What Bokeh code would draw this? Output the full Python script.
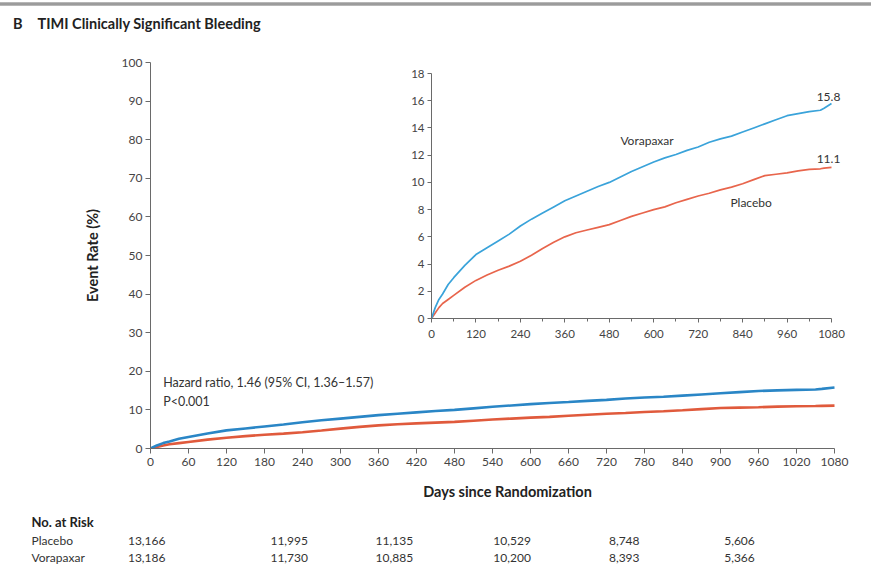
from bokeh.plotting import figure
from bokeh.models import Range1d, Label, FixedTicker, LinearAxis, Div, ColumnDataSource
from bokeh.layouts import column
from bokeh.core.properties import value
from bokeh.embed import file_html
from bokeh.resources import INLINE

# ---------------- data ----------------
days = [0, 10, 20, 30, 45, 60, 90, 120, 150, 180, 210, 240, 270, 300, 330, 360, 390, 420,
        450, 480, 510, 540, 570, 600, 630, 660, 690, 720, 750, 780, 810, 840, 870, 900,
        930, 960, 990, 1020, 1050, 1060, 1080]
vorapaxar = [0, 0.8, 1.4, 1.8, 2.5, 3.0, 3.9, 4.7, 5.2, 5.7, 6.2, 6.8, 7.3, 7.75, 8.2, 8.65,
             9.0, 9.35, 9.7, 10.0, 10.4, 10.8, 11.15, 11.5, 11.8, 12.05, 12.35, 12.6, 12.95,
             13.2, 13.4, 13.7, 14.0, 14.3, 14.6, 14.9, 15.05, 15.2, 15.3, 15.45, 15.8]
placebo = [0, 0.4, 0.8, 1.1, 1.4, 1.7, 2.3, 2.8, 3.2, 3.55, 3.85, 4.2, 4.65, 5.15, 5.6, 6.0,
           6.3, 6.5, 6.7, 6.9, 7.2, 7.5, 7.75, 8.0, 8.2, 8.5, 8.75, 9.0, 9.2, 9.45, 9.65,
           9.9, 10.2, 10.5, 10.6, 10.7, 10.85, 10.95, 11.0, 11.05, 11.1]

main_x_ticks = list(range(0, 1081, 60))
main_y_ticks = list(range(0, 101, 10))
inset_x_ticks = list(range(0, 1081, 120))
inset_x_minor = list(range(60, 1081, 120))
inset_y_ticks = list(range(0, 19, 2))

risk_groups = ["Placebo", "Vorapaxar"]
risk_days = [-6, 219, 385, 571, 748, 930]          # column positions on the days axis
risk_placebo = ["13,166", "11,995", "11,135", "10,529", "8,748", "5,606"]
risk_vorapaxar = ["13,186", "11,730", "10,885", "10,200", "8,393", "5,366"]

final_vor = "15.8"
final_pla = "11.1"

# ---------------- layout constants (pixels) ----------------
W = 871
TITLE_H = 48
MAIN_H = 457
RISK_H = 80
F_LEFT, F_RIGHT, F_TOP, F_BOT = 150, 834, 62, 448       # main axis extent, page pixels
FRAME_RIGHT = 864                                       # drawing area extends a bit past 1080
I_LEFT, I_RIGHT, I_TOP, I_BOT = 431, 831, 73, 318       # inset frame, page pixels

FONT = "Lato"
TXT = "#333333"
AX = "#6a6a6a"
BLUE_MAIN = "#2a86c6"
RED_MAIN = "#e05a3c"
BLUE_INSET = "#3aa3da"
RED_INSET = "#e8654c"

# ---------------- title ----------------
title = Div(text=(
    '<div style="position:relative;width:%dpx;height:%dpx;">'
    '<div style="position:absolute;left:0;top:2px;width:%dpx;height:4px;'
    'background:linear-gradient(#c4c4c4,#8e8e8e,#c4c4c4);"></div>'
    '<div style="position:absolute;left:13px;top:14px;font-family:Lato;font-weight:bold;'
    'font-size:14.5px;color:#222;white-space:nowrap;">B<span style="display:inline-block;width:15px;"></span>'
    'TIMI Clinically Significant Bleeding</div>'
    '</div>') % (W, TITLE_H, W), width=W, height=TITLE_H, margin=0)

# ---------------- main figure ----------------
k = (F_RIGHT - F_LEFT) / 1080
p = figure(width=W, height=MAIN_H, output_backend="svg", toolbar_location=None,
           x_range=Range1d(0, 1080 + (FRAME_RIGHT - F_RIGHT) / k), y_range=Range1d(0, 100),
           min_border_left=F_LEFT, min_border_right=W - FRAME_RIGHT,
           min_border_top=F_TOP - TITLE_H, min_border_bottom=TITLE_H + MAIN_H - F_BOT,
           margin=0)
p.outline_line_color = None
p.xgrid.visible = False
p.ygrid.visible = False


def style_axis(ax, size):
    ax.axis_line_color = AX
    ax.major_tick_line_color = AX
    ax.minor_tick_line_color = AX
    ax.major_tick_out = 5
    ax.major_tick_in = 0
    ax.minor_tick_out = 3
    ax.minor_tick_in = 0
    ax.major_label_text_font = FONT
    ax.major_label_text_font_size = size
    ax.major_label_text_color = "#444444"
    ax.axis_label_text_font = FONT
    ax.axis_label_text_font_size = "14.5px"
    ax.axis_label_text_font_style = "bold"
    ax.axis_label_text_color = "#222222"


style_axis(p.xaxis[0], "12px")
style_axis(p.yaxis[0], "12px")
p.xaxis.ticker = FixedTicker(ticks=main_x_ticks, minor_ticks=[])
p.yaxis.ticker = FixedTicker(ticks=main_y_ticks, minor_ticks=[])
p.xaxis.bounds = (0, 1080)
p.xaxis.axis_label = "Days since Randomization"
p.yaxis.axis_label = "Event Rate (%)"
p.xaxis.axis_label_standoff = 14
p.yaxis.axis_label_standoff = 18
p.xaxis.major_label_standoff = 4
p.yaxis.major_label_standoff = 3

p.line(days, placebo, line_color=RED_MAIN, line_width=2.6)
p.line(days, vorapaxar, line_color=BLUE_MAIN, line_width=2.6)

p.add_layout(Label(x=20, y=17.1, text="Hazard ratio, 1.46 (95% CI, 1.36\u20131.57)",
                   text_font=FONT, text_font_size="12.5px", text_color=TXT,
                   text_baseline="middle"))
p.add_layout(Label(x=20, y=12.2, text="P<0.001",
                   text_font=FONT, text_font_size="12.5px", text_color=TXT,
                   text_baseline="middle"))

# ---------------- inset (extra ranges inside the main frame) ----------------
kx = 1080 / (I_RIGHT - I_LEFT)
ky = 18 / (I_BOT - I_TOP)
p.extra_x_ranges = {"ix": Range1d(-(I_LEFT - F_LEFT) * kx, 1080 + (FRAME_RIGHT - I_RIGHT) * kx)}
p.extra_y_ranges = {"iy": Range1d(-(F_BOT - I_BOT) * ky, 18 + (I_TOP - F_TOP) * ky)}

ixa = LinearAxis(x_range_name="ix", y_range_name="iy", fixed_location=0, bounds=(0, 1080),
                 ticker=FixedTicker(ticks=inset_x_ticks, minor_ticks=inset_x_minor))
style_axis(ixa, "11.5px")
ixa.major_tick_out = 4
ixa.major_label_standoff = 7
p.add_layout(ixa, "below")

iya = LinearAxis(x_range_name="ix", y_range_name="iy", fixed_location=0, bounds=(0, 18),
                 ticker=FixedTicker(ticks=inset_y_ticks, minor_ticks=[]))
style_axis(iya, "11.5px")
iya.major_tick_out = 4
iya.major_label_standoff = 3
p.add_layout(iya, "left")

p.line(days, placebo, line_color=RED_INSET, line_width=1.7, x_range_name="ix", y_range_name="iy")
p.line(days, vorapaxar, line_color=BLUE_INSET, line_width=1.7, x_range_name="ix", y_range_name="iy")

p.add_layout(Label(x=1080, y=16.3, text=final_vor, text_font=FONT, text_font_size="12px",
                   text_color=TXT, text_align="center", text_baseline="middle", x_offset=-3,
                   x_range_name="ix", y_range_name="iy"))
p.add_layout(Label(x=1080, y=11.75, text=final_pla, text_font=FONT, text_font_size="12px",
                   text_color=TXT, text_align="center", text_baseline="middle", x_offset=-3,
                   x_range_name="ix", y_range_name="iy"))
p.add_layout(Label(x=510, y=13.1, text="Vorapaxar", text_font=FONT, text_font_size="12px",
                   text_color=TXT, text_baseline="middle", x_range_name="ix", y_range_name="iy"))
p.add_layout(Label(x=807, y=8.55, text="Placebo", text_font=FONT, text_font_size="12px",
                   text_color=TXT, text_baseline="middle", x_range_name="ix", y_range_name="iy"))

# ---------------- risk table ----------------
r = figure(width=W, height=RISK_H, output_backend="svg", toolbar_location=None,
           x_range=Range1d(-F_LEFT / k, (W - F_LEFT) / k), y_range=Range1d(RISK_H, 0),
           x_axis_location=None, y_axis_location=None, min_border=0, margin=0)
r.outline_line_color = None
r.xgrid.visible = False
r.ygrid.visible = False
for fig in (p, r):
    if "frame_align" in fig.properties():
        fig.frame_align = False

row_y = [35, 52]
head_y = 16
name_x = (31 - F_LEFT) / k
r.text(x=[name_x], y=[head_y], text=["No. at Risk"], text_font=value(FONT),
       text_font_size="13px", text_font_style="bold", text_color="#222222",
       text_baseline="middle")
r.text(x=[name_x] * 2, y=row_y, text=risk_groups, text_font=value(FONT),
       text_font_size="12px", text_color=TXT, text_baseline="middle")
src = ColumnDataSource(dict(x=risk_days + risk_days,
                            y=[row_y[0]] * len(risk_days) + [row_y[1]] * len(risk_days),
                            t=risk_placebo + risk_vorapaxar))
r.text(x="x", y="y", text="t", source=src, text_font=value(FONT), text_font_size="12px",
       text_color=TXT, text_align="center", text_baseline="middle")

layout = column(title, p, r, spacing=0, margin=0)

open("out.html", "w").write(file_html(layout, INLINE))
